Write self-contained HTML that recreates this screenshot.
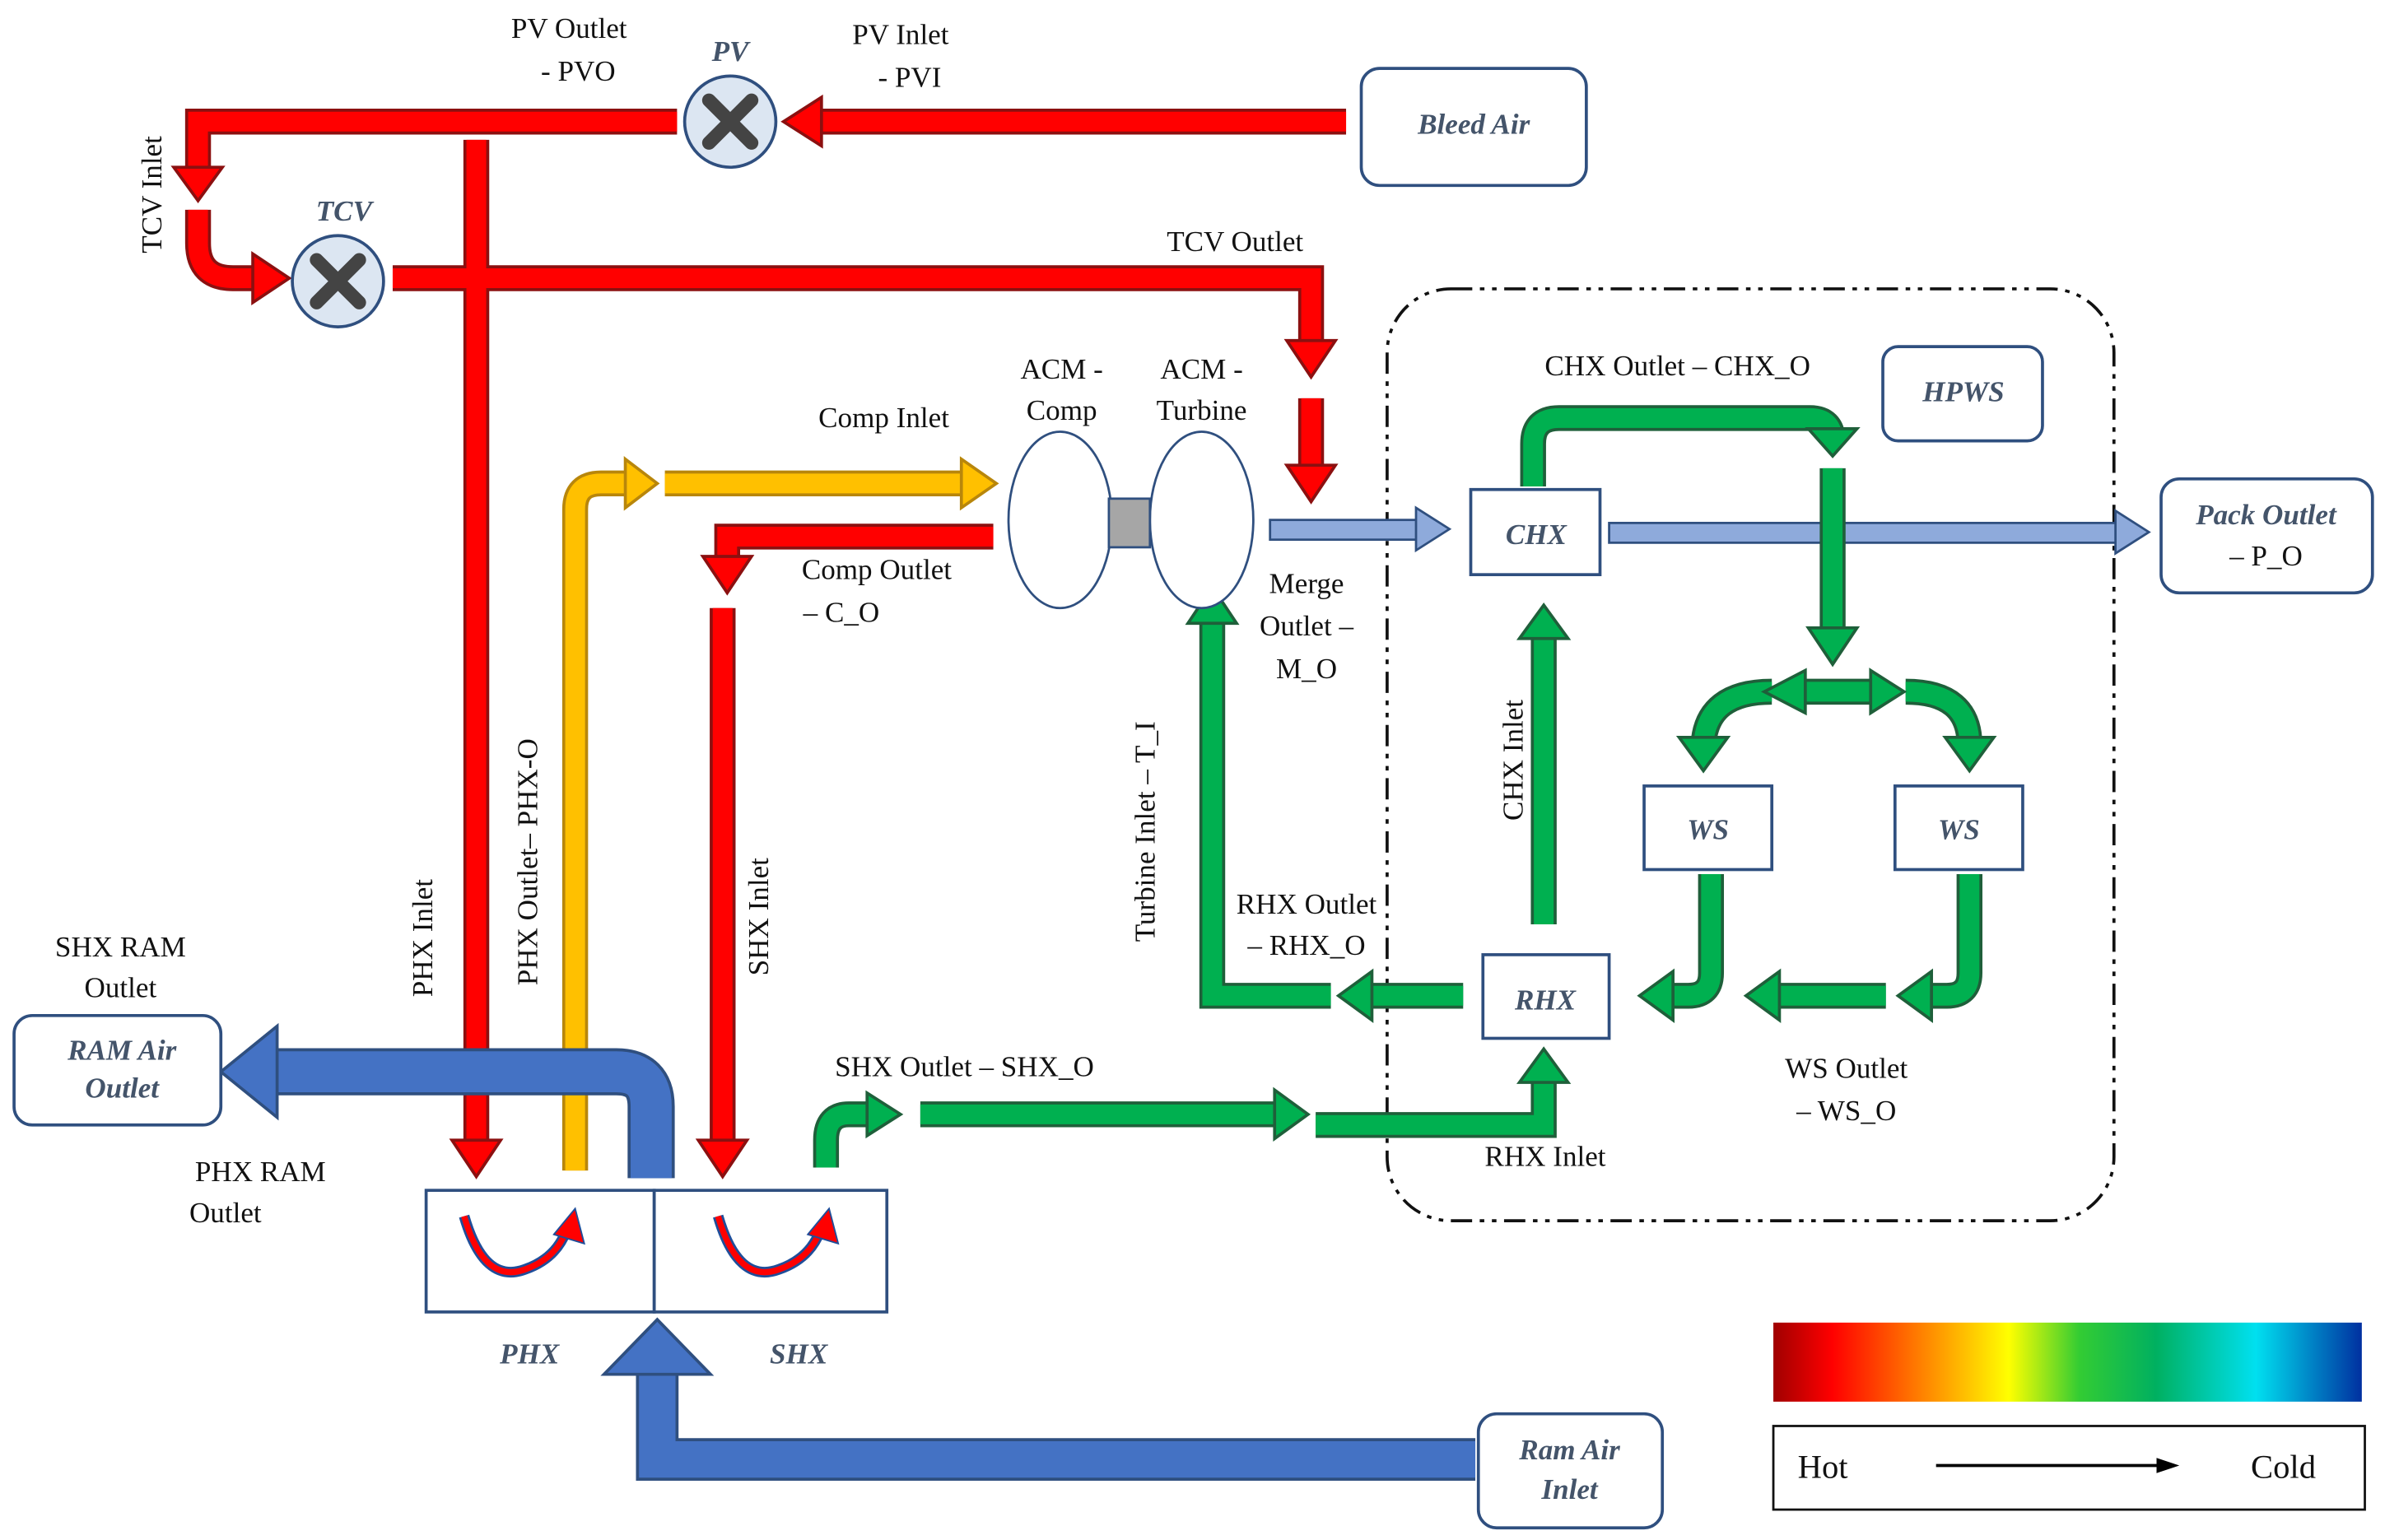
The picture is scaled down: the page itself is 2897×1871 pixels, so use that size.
<!DOCTYPE html>
<html><head><meta charset="utf-8"><style>
html,body{margin:0;padding:0;background:#fff;}
svg{display:block;}
text{font-family:"Liberation Serif",serif;font-size:19px;fill:#111;}
.it{font-style:italic;font-weight:bold;fill:#44546a;}
</style></head><body>
<svg width="2897" height="1871" viewBox="0 0 1568 1013" xmlns="http://www.w3.org/2000/svg">
<g fill="none" stroke-linejoin="round">
<rect x="912" y="190" width="478" height="613" rx="42" stroke="#111" stroke-width="2" stroke-dasharray="14,5,3,5,3,5"/>
</g>

<g fill="none">
 <g stroke="#8b1010" stroke-width="17">
  <path d="M885 80 H535"/><path d="M445 80 H130 V112"/>
  <path d="M313 92 V752"/>
  <path d="M130 138 V160 Q130 183 153 183 H168"/>
  <path d="M258 183 H862 V226"/><path d="M862 262 V308"/>
  <path d="M653 353 H478 V368"/><path d="M475 400 V752"/>
 </g>
 <g stroke="#ff0000" stroke-width="13">
  <path d="M885 80 H535"/><path d="M445 80 H130 V112"/>
  <path d="M313 92 V752"/>
  <path d="M130 138 V160 Q130 183 153 183 H168"/>
  <path d="M258 183 H862 V226"/><path d="M862 262 V308"/>
  <path d="M653 353 H478 V368"/><path d="M475 400 V752"/>
 </g>
</g>
<g fill="#ff0000" stroke="#8b1010" stroke-width="2">
 <polygon points="540,64 515,80 540,96"/>
 <polygon points="114,110 130,132 146,110"/>
 <polygon points="166,167 190,183 166,199"/>
 <polygon points="846,224 862,248 878,224"/>
 <polygon points="846,306 862,330 878,306"/>
 <polygon points="462,366 478,390 494,366"/>
 <polygon points="297,750 313,774 329,750"/>
 <polygon points="459,750 475,774 491,750"/>
</g>

<g stroke="#2f4f7f" stroke-width="2" fill="#dce6f2">
 <circle cx="480" cy="80" r="30"/><circle cx="222" cy="185" r="30"/>
</g>
<g stroke="#444" stroke-width="9" stroke-linecap="round">
 <path d="M466 66 L494 94 M494 66 L466 94"/>
 <path d="M208 171 L236 199 M236 171 L208 199"/>
</g>

<g fill="none">
 <path d="M378 770 V335 Q378 318 395 318 H414" stroke="#b8860b" stroke-width="17"/>
 <path d="M378 770 V335 Q378 318 395 318 H414" stroke="#ffc000" stroke-width="13"/>
 <path d="M437 318 H635" stroke="#b8860b" stroke-width="17"/>
 <path d="M437 318 H635" stroke="#ffc000" stroke-width="13"/>
</g>
<g fill="#ffc000" stroke="#b8860b" stroke-width="2">
 <polygon points="411,302 432,318 411,334"/>
 <polygon points="632,302 655,318 632,334"/>
</g>

<g fill="#8eaadb" stroke="#2f4f7f" stroke-width="1.5">
 <rect x="835" y="342" width="98" height="13"/>
 <polygon points="931,334 953,348 931,362"/>
 <rect x="1058" y="344" width="335" height="13"/>
 <polygon points="1391,336 1413,350 1391,364"/>
</g>

<g fill="none">
 <g stroke="#1f5f3a" stroke-width="17">
  <path d="M1008 320 V292 Q1008 275 1025 275 H1190 Q1205 275 1205 290"/>
  <path d="M1205 308 V415"/>
  <path d="M1185 455 H1232"/>
  <path d="M1165 455 Q1122 455 1120 490"/><path d="M1253 455 Q1295 455 1295 490"/>
  <path d="M1125 575 V640 Q1125 655 1110 655 H1098"/>
  <path d="M1295 575 V640 Q1295 655 1280 655 H1268"/>
  <path d="M1240 655 H1168"/>
  <path d="M1015 608 V418"/>
  <path d="M962 655 H900"/>
  <path d="M875 655 H797 V408"/>
  <path d="M543 768 V750 Q543 733 558 733 H572"/>
  <path d="M605 733 H840"/>
  <path d="M865 740 H1015 V710"/>
 </g>
 <g stroke="#00b050" stroke-width="13">
  <path d="M1008 320 V292 Q1008 275 1025 275 H1190 Q1205 275 1205 290"/>
  <path d="M1205 308 V415"/>
  <path d="M1185 455 H1232"/>
  <path d="M1165 455 Q1122 455 1120 490"/><path d="M1253 455 Q1295 455 1295 490"/>
  <path d="M1125 575 V640 Q1125 655 1110 655 H1098"/>
  <path d="M1295 575 V640 Q1295 655 1280 655 H1268"/>
  <path d="M1240 655 H1168"/>
  <path d="M1015 608 V418"/>
  <path d="M962 655 H900"/>
  <path d="M875 655 H797 V408"/>
  <path d="M543 768 V750 Q543 733 558 733 H572"/>
  <path d="M605 733 H840"/>
  <path d="M865 740 H1015 V710"/>
 </g>
</g>
<g fill="#00b050" stroke="#1f5f3a" stroke-width="2">
 <polygon points="1189,282 1205,300 1221,282"/>
 <polygon points="1189,413 1205,437 1221,413"/>
 <polygon points="1187,441 1160,455 1187,469"/>
 <polygon points="1230,441 1252,455 1230,469"/>
 <polygon points="1104,485 1120,507 1136,485"/>
 <polygon points="1279,485 1295,507 1311,485"/>
 <polygon points="1100,639 1078,655 1100,671"/>
 <polygon points="1270,639 1248,655 1270,671"/>
 <polygon points="1170,639 1148,655 1170,671"/>
 <polygon points="999,420 1015,398 1031,420"/>
 <polygon points="902,639 880,655 902,671"/>
 <polygon points="781,410 797,386 813,410"/>
 <polygon points="570,719 592,733 570,747"/>
 <polygon points="838,717 860,733 838,749"/>
 <polygon points="999,712 1015,690 1031,712"/>
</g>

<g fill="none">
 <path d="M428 775 V728 Q428 705 405 705 H180" stroke="#2f4f7f" stroke-width="31"/>
 <path d="M428 775 V728 Q428 705 405 705 H180" stroke="#4472c4" stroke-width="27"/>
 <path d="M970 960 H432 V902" stroke="#2f4f7f" stroke-width="28"/>
 <path d="M970 960 H432 V902" stroke="#4472c4" stroke-width="24"/>
</g>
<g fill="#4472c4" stroke="#2f4f7f" stroke-width="2">
 <polygon points="182,675 145,705 182,735"/>
 <polygon points="397,904 432,868 467,904"/>
</g>

<g stroke="#2f4f7f" stroke-width="1.5" fill="#fff">
 <ellipse cx="697" cy="342" rx="34" ry="58"/>
 <ellipse cx="790" cy="342" rx="34" ry="58"/>
 <rect x="729" y="328" width="27" height="32" fill="#a6a6a6"/>
</g>

<g stroke="#2f4f7f" stroke-width="2" fill="#fff">
 <rect x="895" y="45" width="148" height="77" rx="12"/>
 <rect x="1238" y="228" width="105" height="62" rx="10"/>
 <rect x="1421" y="315" width="139" height="75" rx="12"/>
 <rect x="9" y="668" width="136" height="72" rx="12"/>
 <rect x="972" y="930" width="121" height="75" rx="12"/>
 <rect x="967" y="322" width="85" height="56"/>
 <rect x="1081" y="517" width="84" height="55"/>
 <rect x="1246" y="517" width="84" height="55"/>
 <rect x="975" y="628" width="83" height="55"/>
 <rect x="280" y="783" width="150" height="80"/>
 <rect x="430" y="783" width="153" height="80"/>
</g>
<g fill="none">
 <path d="M305 800 Q318 845 345 835 Q365 828 372 810" stroke="#1f4e9a" stroke-width="7"/>
 <path d="M305 800 Q318 845 345 835 Q365 828 372 810" stroke="#ff0000" stroke-width="4"/>
 <path d="M472 800 Q485 845 512 835 Q532 828 539 810" stroke="#1f4e9a" stroke-width="7"/>
 <path d="M472 800 Q485 845 512 835 Q532 828 539 810" stroke="#ff0000" stroke-width="4"/>
</g>
<g fill="#ff0000" stroke="#1f4e9a" stroke-width="1"><polygon points="364,812 378,795 384,818"/><polygon points="531,812 545,795 551,818"/></g>

<defs><linearGradient id="g" x1="0" x2="1">
<stop offset="0" stop-color="#a00000"/><stop offset="0.1" stop-color="#ff0000"/><stop offset="0.3" stop-color="#ffaa00"/><stop offset="0.4" stop-color="#ffff00"/><stop offset="0.52" stop-color="#33cc33"/><stop offset="0.65" stop-color="#00b060"/><stop offset="0.82" stop-color="#00e0f0"/><stop offset="1" stop-color="#0030a0"/></linearGradient></defs>
<rect x="1166" y="870" width="387" height="52" fill="url(#g)"/>
<rect x="1166" y="938" width="389" height="55" fill="#fff" stroke="#111" stroke-width="1.5"/>
<path d="M1273 964 H1420" stroke="#000" stroke-width="2"/><polygon points="1418,959 1433,964 1418,969" fill="#000"/>
<text x="1182" y="972" style="font-size:22px">Hot</text><text x="1480" y="972" style="font-size:22px">Cold</text>

<g>
<text class="it" x="969" y="88" text-anchor="middle">Bleed Air</text>
<text class="it" x="1291" y="264" text-anchor="middle">HPWS</text>
<text class="it" x="1490" y="345" text-anchor="middle">Pack Outlet</text>
<text x="1490" y="372" text-anchor="middle">– P_O</text>
<text class="it" x="80" y="697" text-anchor="middle">RAM Air</text>
<text class="it" x="80" y="722" text-anchor="middle">Outlet</text>
<text class="it" x="1032" y="960" text-anchor="middle">Ram Air</text>
<text class="it" x="1032" y="986" text-anchor="middle">Inlet</text>
<text class="it" x="1010" y="358" text-anchor="middle">CHX</text>
<text class="it" x="1123" y="552" text-anchor="middle">WS</text>
<text class="it" x="1288" y="552" text-anchor="middle">WS</text>
<text class="it" x="1016" y="664" text-anchor="middle">RHX</text>
<text class="it" x="348" y="897" text-anchor="middle">PHX</text>
<text class="it" x="525" y="897" text-anchor="middle">SHX</text>
<text class="it" x="480" y="40" text-anchor="middle">PV</text>
<text class="it" x="226" y="145" text-anchor="middle">TCV</text>
<text x="374" y="25" text-anchor="middle">PV Outlet</text>
<text x="380" y="53" text-anchor="middle">- PVO</text>
<text x="592" y="29" text-anchor="middle">PV Inlet</text>
<text x="598" y="57" text-anchor="middle">- PVI</text>
<text x="812" y="165" text-anchor="middle">TCV Outlet</text>
<text x="698" y="249" text-anchor="middle">ACM -</text>
<text x="698" y="276" text-anchor="middle">Comp</text>
<text x="790" y="249" text-anchor="middle">ACM -</text>
<text x="790" y="276" text-anchor="middle">Turbine</text>
<text x="581" y="281" text-anchor="middle">Comp Inlet</text>
<text x="527" y="381">Comp Outlet</text>
<text x="528" y="409">– C_O</text>
<text x="859" y="390" text-anchor="middle">Merge</text>
<text x="859" y="418" text-anchor="middle">Outlet –</text>
<text x="859" y="446" text-anchor="middle">M_O</text>
<text x="1103" y="247" text-anchor="middle">CHX Outlet – CHX_O</text>
<text x="859" y="601" text-anchor="middle">RHX Outlet</text>
<text x="859" y="628" text-anchor="middle">– RHX_O</text>
<text x="634" y="708" text-anchor="middle">SHX Outlet – SHX_O</text>
<text x="1016" y="767" text-anchor="middle">RHX Inlet</text>
<text x="1214" y="709" text-anchor="middle">WS Outlet</text>
<text x="1214" y="737" text-anchor="middle">– WS_O</text>
<text x="79" y="629" text-anchor="middle">SHX RAM</text>
<text x="79" y="656" text-anchor="middle">Outlet</text>
<text x="171" y="777" text-anchor="middle">PHX RAM</text>
<text x="148" y="804" text-anchor="middle">Outlet</text>
<text transform="translate(106,128) rotate(-90)" text-anchor="middle">TCV Inlet</text>
<text transform="translate(284,617) rotate(-90)" text-anchor="middle">PHX Inlet</text>
<text transform="translate(353,567) rotate(-90)" text-anchor="middle">PHX Outlet– PHX-O</text>
<text transform="translate(505,603) rotate(-90)" text-anchor="middle">SHX Inlet</text>
<text transform="translate(759,547) rotate(-90)" text-anchor="middle">Turbine Inlet – T_I</text>
<text transform="translate(1001,500) rotate(-90)" text-anchor="middle">CHX Inlet</text>
</g>
</svg>
</body></html>
